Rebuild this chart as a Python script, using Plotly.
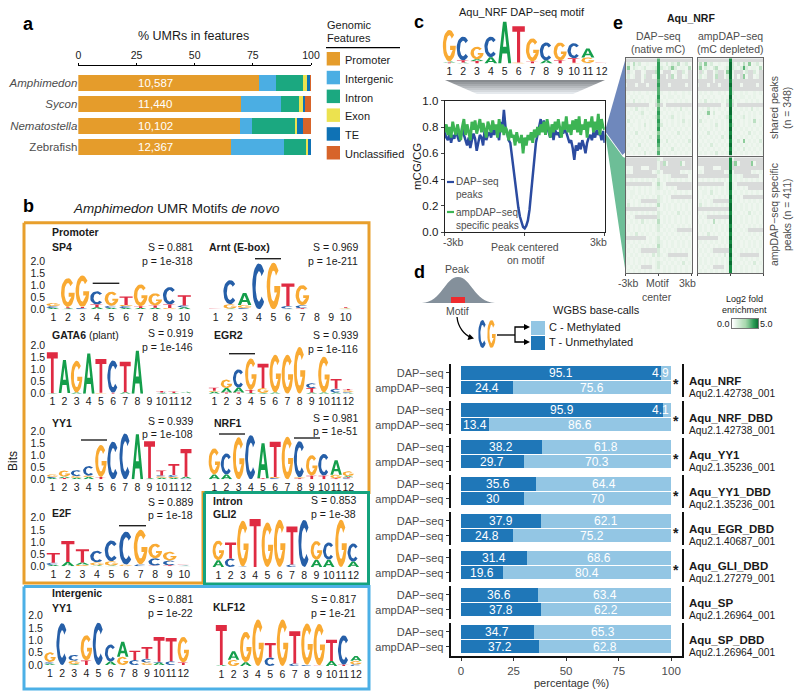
import re
import numpy as np
import plotly.graph_objects as go

W, H = 800, 698
FONT = "Liberation Sans"
DARK = "#1a1a1a"
GREY = "#4d4d4d"

# ---------- panel a ----------
SPECIES = ["<i>Amphimedon</i>", "<i>Sycon</i>", "<i>Nematostella</i>", "Zebrafish"]
UMR_COUNTS = ["10,587", "11,440", "10,102", "12,367"]
FEATURES = ["Promoter", "Intergenic", "Intron", "Exon", "TE", "Unclassified"]
FEATURE_COLORS = ["#E59C2B", "#4BAEE3", "#1BA880", "#ECE24F", "#0F72B5", "#D7642A"]
PROMOTER = [77.9, 70.2, 69.8, 65.6]
INTERGENIC = [7.1, 16.9, 4.8, 22.8]
INTRON = [11.6, 7.9, 18.7, 9.4]
EXON = [1.8, 2.0, 0.8, 0.9]
TE = [1.3, 0.7, 2.7, 1.3]
UNCLASSIFIED = [0.3, 2.3, 3.2, 0.0]

# ---------- sequence logos: stack of letter+bits, bottom to top ----------
LOGO_SP4 = ["A.05C.08G.13", "A.04T.05G1.2", "C.05T.05G1.3", "A.08T.12C.55", "A.05C.1G.58",
            "A.05C.08G.05T.35", "A.05T.08G.9", "A.06T.1G.5", "G.05T.15C.72", "A.08C.08T.42"]
LOGO_ARNT = ["A.01T.02G.02", "A.03G.18C1.0", "C.05G.13A.5", "C1.9", "G1.93",
             "A.02C.12T.93", "T.04C.13G.83", "", "", "A.02G.03T.04"]
LOGO_GATA6 = ["A.02T1.68", "T.03A1.35", "A.05G1.3", "A1.65", "G.04T1.39", "T.04C1.33",
              "A.06T1.25", "A1.76", "", "A.03C.02T.06", "A.03T.06", "C.02G.02A.04"]
LOGO_EGR2 = ["A.08G.04T.12", "T.05A.18G.35", "T.05A.2C.75", "A.03T.12G1.3", "A.03G.2T1.0", "A.05G1.55",
             "G1.6", "G1.92", "A.05T.18C.2", "A.05G1.47", "A.05C.15T.4", "A.04C.04G.06T.05"]
LOGO_YY1 = ["A.05C.05G.1", "T.05A.06G.25", "A.06G.07C.25", "A.1G.05C.4", "T.1G1.32", "C1.56",
            "C1.9", "A1.87", "A.04T1.54", "A.06G.06C.04T.2", "A.05G.05C.08T.45", "C.03A.08T1.14"]
LOGO_NRF1 = ["A.2G1.08", "A.2C.87", "G1.74", "C1.83", "T.04A1.45", "C.05G.05T1.46",
             "G1.76", "T.04G.04C1.5", "T.15G.85", "T.15C.9", "T.04G.15A.6", "C.04T.04A.05G.2"]
LOGO_E2F = ["A.05C.1T.4", "A.18T.86", "G.06A.1T.54", "A.04G.12C.48", "A.03G.18C.85",
            "G.07C1.36", "C.08G1.42", "T.03C.3G.6", "T.04C.2G.36", "A.02C.02G.02T.02"]
LOGO_GLI2 = ["A.28G.8", "C.35T.65", "C.02G1.87", "T1.96", "G1.82", "G1.93",
             "C.1T1.55", "C1.93", "A.3G.76", "A.3C.7", "G1.93", "A.22C.74"]
LOGO_YY1_INTER = ["A.05C.07G.4", "C1.7", "A.03G.14C.24", "T.18G1.03", "C1.72", "A.14C.69",
                  "G.33A.61", "C.2T.38", "G.1C.15T.48", "A.1C.03T1.01", "C.15T.95", "T.1G1.04"]
LOGO_KLF12 = ["A.04T1.63", "G.25A.35", "A.15G1.25", "G1.9", "C.35T.59", "G1.9",
              "C.1T1.32", "C.05G1.69", "T.03G1.69", "A.2T.87", "T.05C1.2", "C.06G.15A.2"]
LOGO_NRF_DAP = ["T.05A.05G1.5", "A.05T.1C1.13", "T.12A.08G.6", "A.3C.98", "A2.0", "G.05T1.72",
                "T.1G1.1", "A.15C.85", "T.15G.85", "G.03T.22C.72", "C.02G.27A.43", "C.01T.02"]
LOGO_CG = ["C2.0", "G2.0"]
LETTER_COLORS = {"A": "#149E4B", "C": "#265FA8", "G": "#F9AA33", "T": "#DF2B42"}

# ---------- panel c ----------
CURVE_DAP = [.76,.72,.70,.75,.68,.74,.71,.78,.73,.69,.72,
             .80,.74,.70,.66,.72,.64,.70,.75,.71,.62,
             .68,.74,.72,.66,.78,.70,.74,.76,.72,.78,
             .74,.80,.76,.70,.84,.78,.93,.80,.76,.70,
             .68,.58,.47,.38,.26,.19,.12,.07,.04,.03,
             .05,.09,.17,.30,.44,.60,.68,.74,.80,.86,
             .78,.85,.74,.84,.76,.72,.80,.70,.78,.74,
             .76,.72,.80,.75,.78,.76,.72,.68,.70,.64,
             .55,.66,.62,.68,.63,.70,.66,.60,.68,.72,
             .74,.70,.76,.72,.78,.74,.76,.70,.77,.68]
CURVE_AMP = [.76,.82,.74,.80,.72,.84,.78,.74,.82,.76,.70,
             .80,.86,.74,.82,.76,.70,.84,.78,.85,.75,
             .80,.86,.76,.83,.78,.72,.84,.80,.76,.85,
             .78,.82,.72,.86,.76,.82,.74,.80,.76,.70,
             .78,.72,.74,.66,.76,.70,.68,.74,.60,.72,
             .66,.74,.70,.76,.68,.78,.72,.80,.74,.82,
             .76,.84,.74,.86,.78,.72,.82,.76,.84,.78,
             .86,.80,.72,.84,.78,.88,.76,.82,.74,.85,
             .78,.86,.76,.88,.74,.82,.78,.86,.72,.84,
             .80,.88,.76,.84,.78,.90,.74,.86,.80,.78]
CURVE_KB = [round(-3 + 0.06 * i, 2) for i in range(101)]

# ---------- panel d ----------
ASSAYS = ["ampDAP−seq", "DAP−seq"]
TF_NAMES = ["Aqu_NRF", "Aqu_NRF_DBD", "Aqu_YY1", "Aqu_YY1_DBD", "Aqu_EGR_DBD", "Aqu_GLI_DBD", "Aqu_SP", "Aqu_SP_DBD"]
TF_IDS = ["Aqu2.1.42738_001", "Aqu2.1.42738_001", "Aqu2.1.35236_001", "Aqu2.1.35236_001",
          "Aqu2.1.40687_001", "Aqu2.1.27279_001", "Aqu2.1.26964_001", "Aqu2.1.26964_001"]
SIGNIFICANT = [True, True, True, True, True, True, False, False]
UNMETH_DAP = [95.1, 95.9, 38.2, 35.6, 37.9, 31.4, 36.6, 34.7]
METH_DAP = [4.9, 4.1, 61.8, 64.4, 62.1, 68.6, 63.4, 65.3]
UNMETH_AMP = [24.4, 13.4, 29.7, 30, 24.8, 19.6, 37.8, 37.2]
METH_AMP = [75.6, 86.6, 70.3, 70, 75.2, 80.4, 62.2, 62.8]

# ---------- panel e: estimated enrichment class per row/column (0 = no data) ----------
HEAT_SHARED_DAP = [
"000000000000 6 000000000000","131423112111 7 213132412311","251321231123 7 321353122141",
"102100120004 7 100012003100","131200130012 7 001041001200","000000100000 6 000000000000",
"200010001000 7 000100000100","000000000000 6 000000000000","121212112121 6 211212112121",
"212121211212 7 121221212112","121312121213 6 212112121212","000000000110 5 010000000000",
"212131212121 6 121212131212","121212311212 7 212121212121","212121212123 6 121231212112",
"131212121212 7 212121213121","212112131212 6 312121212121","121212121212 7 121212121212",
"212131212122 5 212121312121","121212121312 6 121212121212","212121212121 7 213121212131",
"121213121212 6 121212121212","212121212121 5 212131212121","121212131212 6 121212121212"]
HEAT_SHARED_AMP = [
"000000000000 8 000000000000","141523112112 9 313142512311","251321341123 9 321363122141",
"103100130015 9 200013003100","131200140013 9 101051001200","000000100000 8 000000000000",
"200010001000 9 000100000100","000000000000 8 000000000000","121212112121 8 311212112121",
"212121211212 9 121221212112","121312121213 8 312112121212","000000000110 8 010000000000",
"212131212121 9 121212131212","121251311212 9 212121212121","212121212123 8 121231212112",
"131212121212 9 212121214121","212112131212 8 312121212121","121212121212 9 121212121212",
"212131212122 8 212121312121","121212121312 9 121212121212","212121212121 8 213151212131",
"121213121212 9 121212121212","212121212121 8 212131212121","121212131212 9 121212121212"]
HEAT_SPECIFIC_DAP = [
"000000000000 3 100000000000","000000000000 2 041000041000","111000111000 2 000000000000",
"121000000012 3 100000012121","000000000000 2 121200000012","212121212121 3 121212121212",
"000000000012 4 210000000000","121212121212 3 212121000000","212212121212 2 121212121212",
"212121212121 3 212100000000","121212000000 3 212121212121","131212121212 4 121212121212",
"000000000000 2 121212121212","212121212121 3 212121312121","121200000000 3 121212121212",
"212121312121 4 121212121212","121212121212 3 212121212121","121212121212 3 121212000000",
"212131212121 2 212121212121","000000001212 3 121212121212","121212121212 3 212121212121",
"212121212121 4 212121212121","121212000000 3 121212121212","212121212131 3 212000000012",
"121212121212 2 121212121212","121212121212 3 212121213121","212121000012 3 121212121212",
"121212121212 2 121212121212"]
HEAT_SPECIFIC_AMP = [
"000000000000 8 100000000000","000000000000 8 051000051000","111000111000 8 000000000000",
"121000000012 9 100000012121","000000000000 8 121200000012","212121212121 8 121212121212",
"000000000012 9 210000000000","121212121212 9 212121000000","212213121212 8 121212121212",
"212121212121 9 212100000000","121212000000 8 212121212121","131212121212 9 121212121212",
"000000000000 9 121212121212","212121212121 8 212121312121","121200000000 9 121212121212",
"212121412121 9 121212121212","121212121212 8 212121212121","121212121212 9 121212000000",
"212131212121 8 212121212121","000000001212 9 121212121212","121212121212 8 212121212121",
"212121212121 9 212121212121","121212000000 8 121212121212","212121212131 9 212000000012",
"121212121212 8 121212121212","121212121212 9 212121213121","212121000012 8 121212121212",
"121212121212 8 121212121212"]
HEAT_COLS_KB = [round(-3 + 0.25 * i, 2) for i in range(25)]
HEAT_STOPS = ["#D9DBDA", "#EFF6EF", "#E8F3E9", "#D8ECDB", "#BCE0C3", "#8FCD9C", "#55B273", "#2E9D57", "#178A43", "#0A6E33"]
ENRICH_SCALE = [0, 1, 2, 3, 4, 5]


def fx(p):
    return p / W


def fy(p):
    return 1 - p / H


fig = go.Figure()
layout_axes = {}
axis_counter = [0]
shapes = []
annotations = []


def new_axes(x0, x1, y0, y1, xopts=None, yopts=None):
    axis_counter[0] += 1
    n = axis_counter[0]
    sx = "" if n == 1 else str(n)
    hidden = dict(visible=False, fixedrange=True)
    xa = dict(hidden, domain=[fx(x0), fx(x1)], anchor="y" + sx)
    ya = dict(hidden, domain=[fy(y1), fy(y0)], anchor="x" + sx)
    xa.update(xopts or {})
    ya.update(yopts or {})
    layout_axes["xaxis" + sx] = xa
    layout_axes["yaxis" + sx] = ya
    return "x" + sx, "y" + sx


def text(x, y, s, size=11, anchor="left", color=DARK, angle=0):
    annotations.append(dict(x=fx(x), y=fy(y), xref="paper", yref="paper", text=s, showarrow=False,
                            xanchor=anchor, yanchor="middle", borderpad=0, textangle=angle,
                            font=dict(family=FONT, size=size, color=color)))


def poly(points, fill, line=None, lw=0):
    d = "M" + " L".join(f"{fx(a):.5f},{fy(b):.5f}" for a, b in points) + " Z"
    shapes.append(dict(type="path", path=d, xref="paper", yref="paper", fillcolor=fill,
                       line=dict(color=line or fill, width=lw), layer="below"))


def rect(x0, y0, x1, y1, fill, line=None, lw=0):
    shapes.append(dict(type="rect", xref="paper", yref="paper", x0=fx(x0), x1=fx(x1), y0=fy(y0), y1=fy(y1),
                       fillcolor=fill, line=dict(color=line or fill, width=lw)))


def seg(pts, color="black", lw=1.5):
    d = "M" + " L".join(f"{fx(a):.5f},{fy(b):.5f}" for a, b in pts)
    shapes.append(dict(type="path", path=d, xref="paper", yref="paper",
                       line=dict(color=color, width=lw)))


# glyph templates on a unit box
def arc(rx, ry, a0, a1, n=26):
    t = np.radians(np.linspace(a0, a1, n))
    return list(zip(0.5 + rx * np.cos(t), 0.5 + ry * np.sin(t)))


GLYPHS = {
    "A": [(0, 0), (.37, 1), (.63, 1), (1, 0), (.77, 0), (.68, .24), (.5, .24), (.5, .4), (.63, .4), (.5, .78),
          (.37, .4), (.5, .4), (.5, .24), (.32, .24), (.23, 0)],
    "C": arc(.5, .5, 42, 318) + arc(.25, .33, 318, 42),
    "G": arc(.5, .5, 42, 360) + [(.56, .5), (.56, .36), (.76, .36)] + arc(.25, .33, 325, 42),
    "T": [(.02, 1), (.98, 1), (.98, .85), (.62, .85), (.62, 0), (.38, 0), (.38, .85), (.02, .85)],
}


def draw_logo(stacks, x1_px, xn_px, base, top, ylabels=False, numbers=True, num_size=10.5):
    n = len(stacks)
    step = (xn_px - x1_px) / (n - 1)
    xo = dict(visible=numbers, range=[.5, n + .5], tickvals=list(range(1, n + 1)), tickangle=0, showline=False, showgrid=False,
              zeroline=False, ticks="", tickfont=dict(family=FONT, size=num_size, color=DARK))
    yo = dict(visible=ylabels, range=[0, 2], tickvals=[0, .5, 1, 1.5, 2], tickformat=".1f", showline=False,
              showgrid=False, zeroline=False, ticks="", tickfont=dict(family=FONT, size=10.5, color=DARK))
    xr, yr = new_axes(x1_px - step / 2, xn_px + step / 2, top, base, xo, yo)
    parts = {c: ([], []) for c in LETTER_COLORS}
    for i, stack in enumerate(stacks, start=1):
        bottom = 0.0
        for letter, h in re.findall(r"([ACGT])([\d.]+)", stack):
            h = float(h)
            xs, ys = parts[letter]
            for gx, gy in GLYPHS[letter]:
                xs.append(i - .47 + .94 * gx)
                ys.append(bottom + h * gy)
            xs.append(None)
            ys.append(None)
            bottom += h
    for c, (xs, ys) in parts.items():
        if xs:
            fig.add_trace(go.Scatter(x=xs, y=ys, xaxis=xr, yaxis=yr, mode="lines", line=dict(width=0),
                                     fill="toself", fillcolor=LETTER_COLORS[c], hoverinfo="skip",
                                     showlegend=False, cliponaxis=False))


# ---------------- panel a ----------------
xr, yr = new_axes(78.3, 311, 72, 158,
                  dict(visible=True, range=[0, 100], side="top", anchor="free", position=fy(65), tickvals=[0, 25, 50, 75, 100],
                       showline=True, linecolor="black", linewidth=1.3, ticks="outside", ticklen=2, tickcolor="black",
                       showgrid=False, zeroline=False, tickfont=dict(family=FONT, size=10.5, color=DARK)),
                  dict(visible=True, autorange="reversed", type="category", categoryorder="array", categoryarray=SPECIES,
                       showline=False, ticks="", showgrid=False, zeroline=False,
                       tickfont=dict(family=FONT, size=11.5, color=GREY)))
for name, vals, col in zip(FEATURES, [PROMOTER, INTERGENIC, INTRON, EXON, TE, UNCLASSIFIED], FEATURE_COLORS):
    fig.add_trace(go.Bar(y=SPECIES, x=vals, orientation="h", name=name, marker=dict(color=col, line=dict(width=0)),
                         width=.73, xaxis=xr, yaxis=yr, showlegend=False, hoverinfo="skip"))
for sp, lab in zip(SPECIES, UMR_COUNTS):
    annotations.append(dict(x=33, y=sp, xref=xr, yref=yr, text=lab, showarrow=False,
                            font=dict(family=FONT, size=11.5, color="white")))
text(193, 36, "% UMRs in features", 12.5, "center")
text(326, 25, "Genomic", 11)
text(326, 38, "Features", 11)
seg([(326, 47.7), (400, 47.7)], "black", 1.3)
for i, (name, col) in enumerate(zip(FEATURES, FEATURE_COLORS)):
    rect(326.7, 52 + 18.8 * i, 340, 65.5 + 18.8 * i, col)
    text(343.5, 60 + 18.8 * i, name, 11, color=DARK)

# ---------------- panel b ----------------
text(72, 208, "<i>Amphimedon</i> UMR Motifs <i>de novo</i>", 13.5)
ORANGE, GREEN, BLUE = "#E89F2C", "#14A37E", "#4CB0E6"
seg([(24, 222.7), (369, 222.7), (369, 492.5), (203, 492.5), (203, 583), (24, 583), (24, 222.7)], ORANGE, 3)
seg([(204.5, 492.5), (368.5, 492.5), (368.5, 584), (204.5, 584), (204.5, 492.5)], GREEN, 3)
seg([(24, 586.5), (369, 586.5), (369, 689), (24, 689), (24, 586.5)], BLUE, 3)

draw_logo(LOGO_SP4, 53.3, 184.3, 309.3, 261, True)
draw_logo(LOGO_ARNT, 215.7, 345.7, 309.3, 261)
draw_logo(LOGO_GATA6, 52.3, 186, 393.7, 345, True)
draw_logo(LOGO_EGR2, 214.3, 348.3, 393.7, 345)
draw_logo(LOGO_YY1, 52.3, 186, 479.3, 431, True)
draw_logo(LOGO_NRF1, 214.3, 348.3, 479.3, 431)
draw_logo(LOGO_E2F, 53.3, 184.3, 566.3, 517.7, True)
draw_logo(LOGO_GLI2, 218.3, 353.3, 567, 518)
draw_logo(LOGO_YY1_INTER, 50, 183.3, 665, 615.7, True)
draw_logo(LOGO_KLF12, 221.3, 356, 666, 617)

for x0, x1, y in [(92.7, 119.3, 283.3), (255, 281, 258.7), (229, 255, 353.7), (81, 107, 440),
                  (219, 245, 434), (294, 320, 438), (119, 146, 525.7)]:
    seg([(x0, y), (x1, y)], "#222222", 1.4)

for x, y, s in [(51, 232, "<b>Promoter</b>"), (51, 247, "<b>SP4</b>"), (208, 247, "<b>Arnt (E-box)</b>"),
                (51, 335, "<b>GATA6</b> (plant)"), (213, 335, "<b>EGR2</b>"), (51, 423, "<b>YY1</b>"), (213, 423, "<b>NRF1</b>"),
                (51, 513, "<b>E2F</b>"), (212, 501.5, "<b>Intron</b>"), (212, 513.5, "<b>GLI2</b>"),
                (51, 593, "<b>Intergenic</b>"), (51, 608, "<b>YY1</b>"), (212, 607, "<b>KLF12</b>")]:
    text(x, y, s, 10.5)
for x, y, s, p in [(194, 247, "0.881", "1e-318"), (359, 247, "0.969", "1e-211"), (194, 333, "0.919", "1e-146"),
                   (359, 335, "0.939", "1e-116"), (194, 420.5, "0.939", "1e-108"), (359, 417.5, "0.981", "1e-51"),
                   (194, 501.7, "0.889", "1e-18"), (357, 500, "0.853", "1e-38"), (194, 599, "0.881", "1e-22"),
                   (357, 599, "0.817", "1e-21")]:
    text(x, y, "S = " + s, 10.5, "right")
    text(x, y + 13.7, "p = " + p, 10.5, "right")
text(13, 461, "Bits", 12, "center", angle=-90)

# ---------------- panel c ----------------
text(522, 12, "Aqu_NRF DAP−seq motif", 11, "center")
draw_logo(LOGO_NRF_DAP, 449.3, 601.7, 63.5, 21.5, False, True, 10.5)
for k in range(7):
    t0, t1 = k / 7, (k + 1) / 7
    y0, y1 = 80 + 14 * t0, 80 + 14 * t1
    shade = int(135 + 110 * t0)
    poly([(445 + 32 * t0, y0), (605 - 32 * t0, y0), (605 - 32 * t1, y1), (445 + 32 * t1, y1)],
         f"rgb({shade},{shade + 4},{shade + 8})")

xr, yr = new_axes(444.7, 604.7, 100.7, 232.3,
                  dict(visible=True, range=[-3, 3], tickvals=[-3, 0, 3], ticktext=["", "", ""], ticks="outside", ticklen=3,
                       showline=True, mirror=True, linecolor="#222222", linewidth=1.2, showgrid=False, zeroline=False),
                  dict(visible=True, range=[0, 1], tickvals=[0, .2, .4, .6, .8, 1], tickformat=".1f", ticks="outside", ticklen=3,
                       showline=True, mirror=True, linecolor="#222222", linewidth=1.2, showgrid=False, zeroline=False,
                       tickfont=dict(family=FONT, size=11.5, color=DARK)))
fig.add_trace(go.Scatter(x=CURVE_KB, y=CURVE_DAP, xaxis=xr, yaxis=yr, mode="lines", line=dict(color="#2B4BA0", width=2.5),
                         showlegend=False, hoverinfo="skip"))
fig.add_trace(go.Scatter(x=CURVE_KB, y=CURVE_AMP, xaxis=xr, yaxis=yr, mode="lines", line=dict(color="#3DB454", width=2.8),
                         showlegend=False, hoverinfo="skip"))
text(417, 167, "mCG/CG", 11.5, "center", angle=-90)
text(453, 242, "-3kb", 10.5, "center", GREY)
text(598, 242, "3kb", 10.5, "center", GREY)
text(525, 247, "Peak centered", 10.5, "center", GREY)
text(525, 260, "on motif", 10.5, "center", GREY)
seg([(447, 182), (454, 182)], "#2B4BA0", 2.2)
text(455, 182, "DAP−seq", 10, color=GREY)
text(455, 194, "peaks", 10, color=GREY)
seg([(447, 212), (454, 212)], "#3DB454", 2.2)
text(455, 212, "ampDAP−seq", 10, color=GREY)
text(455, 225, "specific peaks", 10, color=GREY)

# connectors from plot c to heat maps
poly([(605, 131), (625.7, 58.3), (625.7, 152), (622.5, 155)], "#6F88BC")
poly([(605, 132.5), (623, 157), (625.7, 158), (625.7, 273)], "#6DBE97")

# ---------------- panel e ----------------
def draw_heat(rows, x0, x1, y0, y1, bottom):
    z = [[int(c) for c in r.replace(" ", "")] for r in rows]
    cs = [[i / 9, c] for i, c in enumerate(HEAT_STOPS)]
    xo = dict(visible=True, range=[-3, 3], showline=True, mirror=True, linecolor="#666666", linewidth=1.3, showgrid=False,
              zeroline=False, tickvals=[-3, 0, 3] if bottom else [], ticktext=["", "", ""] if bottom else [], ticks="outside" if bottom else "", ticklen=2)
    yo = dict(visible=True, range=[len(rows) - .5, -.5], showline=True, mirror=True, linecolor="#666666", linewidth=1.3,
              showgrid=False, zeroline=False, tickvals=[], ticks="")
    xr, yr = new_axes(x0, x1, y0, y1, xo, yo)
    fig.add_trace(go.Heatmap(z=z, x=HEAT_COLS_KB, xaxis=xr, yaxis=yr, zmin=0, zmax=9, colorscale=cs, showscale=False,
                             hoverinfo="skip"))


draw_heat(HEAT_SHARED_DAP, 625.7, 691.7, 58.3, 155.7, False)
draw_heat(HEAT_SHARED_AMP, 697.7, 763.3, 58.3, 155.7, False)
draw_heat(HEAT_SPECIFIC_DAP, 625.7, 691.7, 157.3, 273, True)
draw_heat(HEAT_SPECIFIC_AMP, 697.7, 763.3, 157.3, 273, True)

text(691, 18, "<b>Aqu_NRF</b>", 10.5, "center")
text(658, 36, "DAP−seq", 10.5, "center", GREY)
text(658, 49, "(native mC)", 10.5, "center", GREY)
text(730, 36, "ampDAP−seq", 10.5, "center", GREY)
text(730, 49, "(mC depleted)", 10.5, "center", GREY)
text(774, 108, "shared peaks", 10.5, "center", GREY, -90)
text(787, 108, "(n = 348)", 10.5, "center", GREY, -90)
text(774, 215, "ampDAP−seq specific", 10.5, "center", GREY, -90)
text(787, 215, "peaks (n = 411)", 10.5, "center", GREY, -90)
text(628, 283, "-3kb", 10.5, "center", GREY)
text(657, 283, "Motif", 10.5, "center", GREY)
text(687, 283, "3kb", 10.5, "center", GREY)
text(657, 297, "center", 10.5, "center", GREY)
text(744, 299, "Log2 fold", 9, "center")
text(744, 310, "enrichment", 9, "center")
text(723, 323.5, "0.0", 9, "center")
text(766, 323.5, "5.0", 9, "center")
xr, yr = new_axes(732, 758, 319, 328,
                  dict(visible=True, range=[0, 5], showline=True, mirror=True, linecolor="#777777", linewidth=1, showgrid=False, zeroline=False, tickvals=[]),
                  dict(visible=True, range=[-.5, .5], showline=True, mirror=True, linecolor="#777777", linewidth=1, showgrid=False, zeroline=False, tickvals=[]))
fig.add_trace(go.Heatmap(z=[ENRICH_SCALE], x=ENRICH_SCALE, y=[0], xaxis=xr, yaxis=yr, zmin=0, zmax=5, zsmooth="best", showscale=False, hoverinfo="skip",
                         colorscale=[[0, "#FFFFFF"], [.5, "#A8D8AE"], [.8, "#2E9D57"], [1, "#0A6E33"]]))

# ---------------- panel d diagram ----------------
def curve(d, fill=None, line=None, lw=0):
    def conv(m):
        return f"{fx(float(m.group(1))):.5f},{fy(float(m.group(2))):.5f}"
    shapes.append(dict(type="path", path=re.sub(r"([\d.]+),([\d.]+)", conv, d), xref="paper", yref="paper",
                       fillcolor=fill or "rgba(0,0,0,0)", line=dict(color=line or "rgba(0,0,0,0)", width=lw)))


text(457, 269, "Peak", 10.5, "center", GREY)
curve("M422,303 C442,302 445,277 458,277 C471,277 474,302 495,303 Z", "#84909B")
rect(451, 297, 465, 303, "#EE2B2E")
text(457, 311, "Motif", 10.5, "center", GREY)
curve("M457,317 C458,327 464,335 472,338", None, "black", 1.3)
poly([(474, 338.5), (467.5, 340), (469.5, 334)], "black")
draw_logo(LOGO_CG, 482.5, 491.5, 348, 320, False, False)
seg([(497, 335), (515, 335)], "black", 1.3)
seg([(528, 327), (515, 327), (515, 342), (528, 342)], "black", 1.3)
poly([(530, 327), (524, 324), (524, 330)], "black")
poly([(530, 342), (524, 339), (524, 345)], "black")
rect(531, 321, 545, 335, "#93C6E4")
rect(531, 336, 545, 350, "#1F77B8")
text(596, 310, "WGBS base-calls", 11, "center")
text(548, 327, "C - Methylated", 11)
text(548, 342, "T - Unmethylated", 11)

# ---------------- panel d bars ----------------
for i, name in enumerate(TF_NAMES):
    top = 364 + 37 * i
    last = i == len(TF_NAMES) - 1
    xo = dict(visible=last, range=[-4.9, 105], tickvals=[0, 25, 50, 75, 100], showline=True, linecolor="#111111", linewidth=2,
              ticks="outside", ticklen=3, tickcolor="#333333", showgrid=False, zeroline=False,
              tickfont=dict(family=FONT, size=11.5, color=GREY))
    yo = dict(visible=True, type="category", categoryorder="array", categoryarray=ASSAYS, range=[-.6, 1.6], showline=True, mirror=True,
              linecolor="#111111", linewidth=2, ticks="outside", ticklen=3, tickcolor="#333333", showgrid=False, zeroline=False,
              tickfont=dict(family=FONT, size=11, color=GREY))
    xr, yr = new_axes(450.7, 681.7, top, top + 32.7, xo, yo)
    unmeth = [UNMETH_AMP[i], UNMETH_DAP[i]]
    meth = [METH_AMP[i], METH_DAP[i]]
    for vals, col in [(unmeth, "#1F77B8"), (meth, "#93C6E4")]:
        fig.add_trace(go.Bar(y=ASSAYS, x=vals, orientation="h", xaxis=xr, yaxis=yr, marker=dict(color=col, line=dict(width=0)),
                             width=.89, showlegend=False, hoverinfo="skip"))
    for assay, u, m in zip(ASSAYS, unmeth, meth):
        annotations.append(dict(x=u / 2, y=assay, xref=xr, yref=yr, text=str(u), showarrow=False,
                                font=dict(family=FONT, size=12, color="white")))
        annotations.append(dict(x=min(u + m / 2, 94.7), y=assay, xref=xr, yref=yr, text=str(m), showarrow=False,
                                font=dict(family=FONT, size=12, color="white")))
    text(688, top + 16.7, f"<b>{name}</b>", 11.5)
    text(688, top + 29, TF_IDS[i], 10.2)
    if SIGNIFICANT[i]:
        text(675.7, top + 20.5, "<b>*</b>", 14, "center")
text(571, 682.7, "percentage (%)", 11, "center", "#333333")

# panel letters
for x, y, s in [(28, 24, "a"), (28, 206, "b"), (419, 22, "c"), (419, 272, "d"), (618, 23, "e")]:
    text(x, y, f"<b>{s}</b>", 18, "center", "black")

fig.update_layout(width=W, height=H, autosize=False, margin=dict(l=0, r=0, t=0, b=0, pad=0, autoexpand=False),
                  paper_bgcolor="white", plot_bgcolor="white", showlegend=False, font=dict(family=FONT), barmode="stack",
                  bargap=0, shapes=shapes, annotations=annotations, **layout_axes)
fig.write_html("out.html", config={"displayModeBar": False},
               post_script="document.body.style.margin='0';document.body.style.overflow='hidden';")
